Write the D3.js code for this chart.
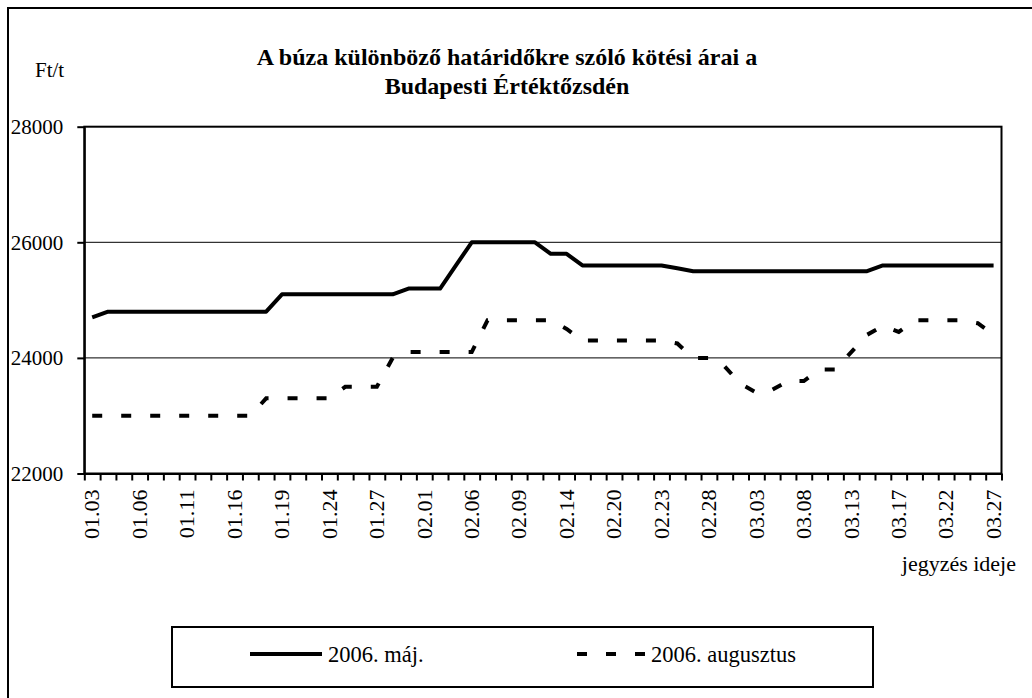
<!DOCTYPE html>
<html>
<head>
<meta charset="utf-8">
<script src="https://cdn.jsdelivr.net/npm/d3@7"></script>
<style>
  body { margin: 0; background: #fff; }
  svg text { font-family: 'Liberation Serif', 'Times New Roman', serif; fill: #000; }
</style>
</head>
<body>
<main></main>
<script>
'use strict';

// trading days shown on the x axis (every 3rd one gets a label)
const dates = [
  '01.03','01.04','01.05','01.06','01.09','01.10','01.11','01.12','01.13','01.16',
  '01.17','01.18','01.19','01.20','01.23','01.24','01.25','01.26','01.27','01.30',
  '01.31','02.01','02.02','02.03','02.06','02.07','02.08','02.09','02.10','02.13',
  '02.14','02.15','02.16','02.20','02.21','02.22','02.23','02.24','02.27','02.28',
  '03.01','03.02','03.03','03.06','03.07','03.08','03.09','03.10','03.13','03.14',
  '03.16','03.17','03.20','03.21','03.22','03.23','03.24','03.27'
];

// 2006. máj. contract, Ft/t
const majValues = [
  24700,
  24800,24800,24800,24800,24800,24800,24800,24800,24800,24800,24800,
  25100,25100,25100,25100,25100,25100,25100,25100,
  25200,25200,25200,
  25600,
  26000,26000,26000,26000,26000,
  25800,25800,
  25600,25600,25600,25600,25600,25600,
  25550,
  25500,25500,25500,25500,25500,25500,25500,25500,25500,25500,25500,25500,
  25600,25600,25600,25600,25600,25600,25600,25600
];

// 2006. augusztus contract, Ft/t
const augValues = [
  23000,23000,23000,23000,23000,23000,23000,23000,23000,23000,23000,
  23300,23300,23300,23300,23300,
  23500,23500,23500,
  24000,
  24100,24100,24100,24100,24100,
  24650,24650,24650,24650,24650,
  24500,
  24300,24300,24300,24300,24300,24300,
  24250,
  24000,24000,
  23850,23550,23400,23450,
  23600,23600,
  23800,23800,
  24100,24400,24550,24450,
  24650,24650,24650,24650,
  24600,24400
];

const yTicks = [22000, 24000, 26000, 28000];

const seriesNames = ['2006. máj.', '2006. augusztus'];
const titleLines = ['A búza különböző határidőkre szóló kötési árai a', 'Budapesti Értéktőzsdén'];

const width = 1032, height = 698;
const plot = { left: 84.3, right: 1001.5, top: 126.7, bottom: 473.5 };

const svg = d3.select('main')
  .append('svg')
  .attr('width', width)
  .attr('height', height);

svg.append('rect')
  .attr('width', width).attr('height', height)
  .attr('fill', '#fff');

// outer chart frame (right and bottom edges fall outside the picture)
svg.append('rect')
  .attr('x', 8).attr('y', 8)
  .attr('width', 1040).attr('height', 710)
  .attr('fill', 'none')
  .attr('stroke', '#000')
  .attr('stroke-width', 2);

const x = d3.scaleBand()
  .domain(dates)
  .range([plot.left, plot.right]);
const xc = d => x(d) + x.bandwidth() / 2;

const xIdx = d3.scaleLinear()
  .domain([0, dates.length])
  .range([plot.left, plot.right]);

const y = d3.scaleLinear()
  .domain([22000, 28000])
  .range([plot.bottom, plot.top]);

// gridlines
svg.append('g')
  .selectAll('line')
  .data(yTicks.slice(1, -1))
  .enter()
  .append('line')
  .attr('x1', plot.left).attr('x2', plot.right)
  .attr('y1', d => y(d)).attr('y2', d => y(d))
  .attr('stroke', '#000')
  .attr('stroke-width', 1);

// plot area frame
svg.append('rect')
  .attr('x', plot.left).attr('y', plot.top)
  .attr('width', plot.right - plot.left)
  .attr('height', plot.bottom - plot.top)
  .attr('fill', 'none')
  .attr('stroke', '#000')
  .attr('stroke-width', 2);

// y axis
const yAxis = svg.append('g')
  .attr('transform', 'translate(' + plot.left + ',0)')
  .call(d3.axisLeft(y).tickValues(yTicks).tickSize(7).tickSizeOuter(0).tickPadding(14).tickFormat(d3.format('d')));
yAxis.select('.domain').attr('stroke-width', 2);
yAxis.selectAll('line').attr('stroke-width', 2);
yAxis.selectAll('text').style('font-size', '21px');

// x axis: tick marks between trading days
const xTickAxis = svg.append('g')
  .attr('transform', 'translate(0,' + plot.bottom + ')')
  .call(d3.axisBottom(xIdx).tickValues(d3.range(dates.length + 1)).tickSize(7).tickSizeOuter(0).tickFormat(''));
xTickAxis.select('.domain').attr('stroke-width', 2);
xTickAxis.selectAll('line').attr('stroke-width', 2);

// x axis: rotated date labels
const xLabelAxis = svg.append('g')
  .attr('transform', 'translate(0,' + plot.bottom + ')')
  .call(d3.axisBottom(x).tickValues(dates.filter((d, i) => i % 3 === 0)).tickSize(0).tickPadding(0));
xLabelAxis.select('.domain').remove();
xLabelAxis.selectAll('text')
  .style('font-size', '22px')
  .attr('text-anchor', 'end')
  .attr('transform', 'rotate(-90)')
  .attr('x', -16)
  .attr('y', 0)
  .attr('dy', '0.33em');

// series
const line = d3.line()
  .x((d, i) => xc(dates[i]))
  .y(d => y(d));

svg.append('path')
  .datum(majValues)
  .attr('d', line)
  .attr('fill', 'none')
  .attr('stroke', '#000')
  .attr('stroke-width', 4)
  .attr('stroke-linejoin', 'round');

svg.append('path')
  .datum(augValues)
  .attr('d', line)
  .attr('fill', 'none')
  .attr('stroke', '#000')
  .attr('stroke-width', 4)
  .attr('stroke-dasharray', '10,19');

// titles
svg.append('g')
  .selectAll('text')
  .data(titleLines)
  .enter()
  .append('text')
  .attr('x', 507)
  .attr('y', (d, i) => 57 + i * 29)
  .attr('dy', '0.35em')
  .attr('text-anchor', 'middle')
  .style('font-size', '24px')
  .style('font-weight', 'bold')
  .text(d => d);

svg.append('text')
  .attr('x', 35).attr('y', 70)
  .attr('dy', '0.35em')
  .style('font-size', '21px')
  .text('Ft/t');

svg.append('text')
  .attr('x', 1016).attr('y', 563)
  .attr('dy', '0.35em')
  .attr('text-anchor', 'end')
  .style('font-size', '22px')
  .text('jegyzés ideje');

// legend
const legend = svg.append('g');
legend.append('rect')
  .attr('x', 172).attr('y', 627)
  .attr('width', 701).attr('height', 60)
  .attr('fill', '#fff')
  .attr('stroke', '#000')
  .attr('stroke-width', 2);

const legendItems = [
  { name: seriesNames[0], x1: 250, x2: 322, dash: null },
  { name: seriesNames[1], x1: 577, x2: 645, dash: '10,19' }
];

const item = legend.selectAll('.item')
  .data(legendItems)
  .enter()
  .append('g')
  .attr('class', 'item');

item.append('line')
  .attr('x1', d => d.x1).attr('x2', d => d.x2)
  .attr('y1', 654).attr('y2', 654)
  .attr('stroke', '#000')
  .attr('stroke-width', 4)
  .attr('stroke-dasharray', d => d.dash);

item.append('text')
  .attr('x', d => d.x2 + 6)
  .attr('y', 654)
  .attr('dy', '0.35em')
  .style('font-size', '22.5px')
  .text(d => d.name);
</script>
</body>
</html>
